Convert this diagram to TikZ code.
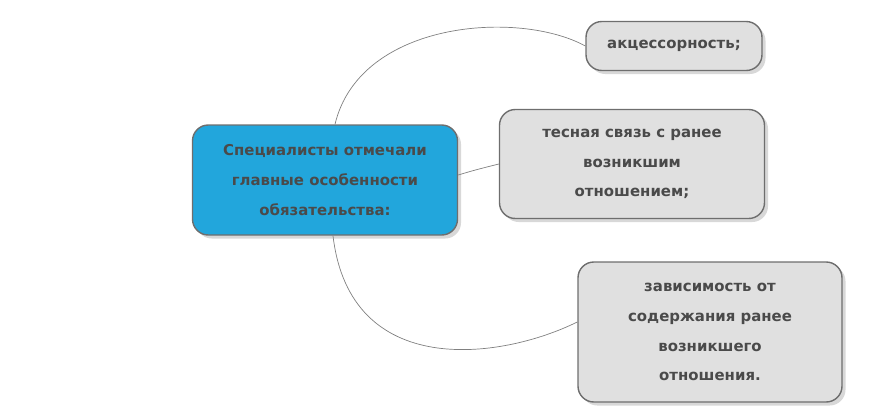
\documentclass[tikz,border=0pt]{standalone}
\usepackage{fontspec}
\setmainfont{DejaVu Sans}
\usetikzlibrary{positioning,shadows,calc}
\definecolor{rootblue}{HTML}{22A6DC}
\definecolor{leafgray}{HTML}{E0E0E0}
\definecolor{textgray}{HTML}{4A4A4A}
\begin{document}
\begin{tikzpicture}[x=0.02cm, y=-0.02cm, semithick]
		\tikzstyle{idea}=[draw=textgray!80, thick, rounded corners=9pt, text=textgray, font=\fontsize{8.5}{17}\selectfont\bfseries, align=center, inner sep=0pt, drop shadow={shadow xshift=2pt, shadow yshift=-2pt, fill=gray!60}]
		\tikzstyle{link}=[draw=gray, thin]
		\useasboundingbox (0,0) rectangle (877,406);
		\node[idea, fill=rootblue, minimum width=265*0.02cm, minimum height=110*0.02cm] (root) at (325,180) {Специалисты отмечали\\главные особенности\\обязательства:};
		\node[idea, fill=leafgray, minimum width=176*0.02cm, minimum height=49*0.02cm] (acc) at (674,46) {акцессорность;};
		\node[idea, fill=leafgray, minimum width=265*0.02cm, minimum height=109*0.02cm] (tie) at (632,164) {тесная связь с ранее\\возникшим\\отношением;};
		\node[idea, fill=leafgray, minimum width=264*0.02cm, minimum height=140*0.02cm] (dep) at (710,332) {зависимость от\\содержания ранее\\возникшего\\отношения.};
		\path[link]
		(root.north) ++(10,0) coordinate (rt) (rt) .. controls (360,20) and (520,10) .. (acc.west)
		(root.east) ++(0,-5) coordinate (re) (re) .. controls (475,170) .. (tie.west)
		(root.south) ++(8,0) coordinate (rb) (rb) .. controls (350,380) and (500,360) .. ($(dep.west)+(0,-10)$);
	\end{tikzpicture}
\end{document}
